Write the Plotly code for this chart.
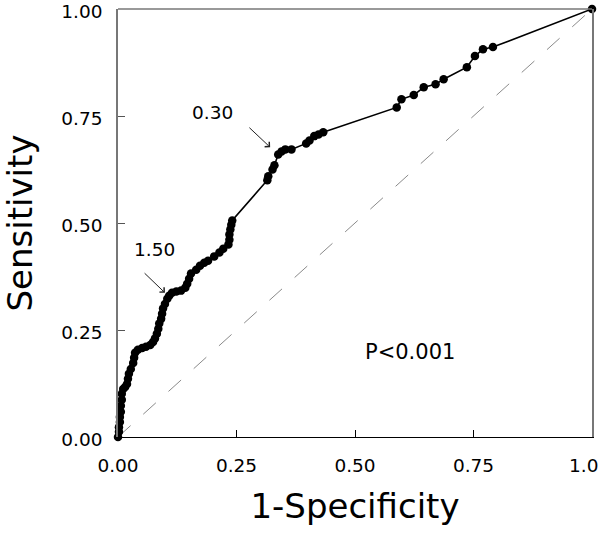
import plotly.graph_objects as go

# ROC curve points (1-Specificity, Sensitivity)
fpr = [0.000, 0.002, 0.002, 0.004, 0.004, 0.006, 0.006, 0.008, 0.008, 0.011,
       0.015, 0.019, 0.021, 0.023, 0.027, 0.032, 0.034, 0.036, 0.042, 0.051,
       0.059, 0.068, 0.074, 0.078, 0.082, 0.085, 0.087, 0.091, 0.093, 0.095,
       0.099, 0.104, 0.108, 0.114, 0.123, 0.133, 0.142, 0.146, 0.150, 0.154,
       0.165, 0.173, 0.182, 0.190, 0.203, 0.214, 0.222, 0.233, 0.235, 0.235,
       0.237, 0.239, 0.241, 0.315, 0.317, 0.326, 0.330, 0.338, 0.345, 0.353,
       0.366, 0.397, 0.404, 0.414, 0.423, 0.433, 0.588, 0.598, 0.624, 0.645,
       0.670, 0.687, 0.736, 0.753, 0.770, 0.791, 1.000]
sens = [0.000, 0.012, 0.023, 0.035, 0.047, 0.059, 0.073, 0.087, 0.101, 0.112,
        0.117, 0.124, 0.136, 0.148, 0.159, 0.173, 0.185, 0.197, 0.204, 0.208,
        0.211, 0.215, 0.222, 0.230, 0.241, 0.253, 0.265, 0.276, 0.288, 0.300,
        0.311, 0.323, 0.330, 0.337, 0.340, 0.342, 0.349, 0.358, 0.370, 0.382,
        0.391, 0.400, 0.407, 0.412, 0.422, 0.431, 0.440, 0.450, 0.461, 0.473,
        0.485, 0.496, 0.506, 0.600, 0.609, 0.625, 0.635, 0.660, 0.667, 0.672,
        0.672, 0.686, 0.693, 0.703, 0.707, 0.712, 0.770, 0.789, 0.799, 0.817,
        0.824, 0.836, 0.864, 0.890, 0.906, 0.911, 1.000]

x_tickvals = [0, 0.25, 0.5, 0.75, 1.0]
x_ticktext = ["0.00", "0.25", "0.50", "0.75", "1.0"]
y_tickvals = [0, 0.25, 0.5, 0.75, 1.0]
y_ticktext = ["0.00", "0.25", "0.50", "0.75", "1.00"]

# Cut-off annotations
cutoff_labels = ["1.50", "0.30"]
label_x = [0.078, 0.200]
label_y = [0.438, 0.759]
arrow_head_x = [0.099, 0.321]
arrow_head_y = [0.337, 0.677]
arrow_tail_x = [0.053, 0.274]
arrow_tail_y = [0.386, 0.726]

diag = [0, 1]

FONT = "DejaVu Sans, Verdana, sans-serif"
TICK_SIZE = 18.5

fig = go.Figure()
fig.add_trace(go.Scatter(x=diag, y=diag, mode="lines",
                         line=dict(color="#8a8a8a", width=1, dash="17px,17px"),
                         hoverinfo="skip", showlegend=False))
fig.add_trace(go.Scatter(x=fpr, y=sens, mode="lines+markers",
                         line=dict(color="black", width=1.6),
                         marker=dict(color="black", size=8.5),
                         cliponaxis=False, showlegend=False))

for lab, lx, ly, hx, hy, tx, ty in zip(cutoff_labels, label_x, label_y,
                                      arrow_head_x, arrow_head_y,
                                      arrow_tail_x, arrow_tail_y):
    fig.add_annotation(x=lx, y=ly, text=lab, showarrow=False,
                       font=dict(family=FONT, size=18.5, color="black"))
    fig.add_annotation(x=hx, y=hy, ax=tx, ay=ty, axref="x", ayref="y",
                       text="", showarrow=True, arrowhead=4, arrowsize=1.3,
                       arrowwidth=1, arrowcolor="#222")

fig.add_annotation(x=0.616, y=0.199, text="P<0.001", showarrow=False,
                   font=dict(family=FONT, size=21, color="black"))

# last x tick label drawn flush with the right edge so it stays inside the page
x_axis_labels = x_ticktext[:-1] + [""]
fig.add_annotation(x=x_tickvals[-1], xref="x", y=0, yref="paper",
                   text=x_ticktext[-1], showarrow=False, xanchor="right",
                   yanchor="top", xshift=8, yshift=-16,
                   font=dict(family=FONT, size=TICK_SIZE, color="black"))

fig.add_shape(type="line", xref="paper", yref="paper", x0=0, x1=1, y0=1, y1=1,
              line=dict(color="#777", width=1.5))

fig.update_layout(
    width=600, height=536,
    margin=dict(l=118, r=8, t=9, b=99, autoexpand=False),
    paper_bgcolor="white", plot_bgcolor="white",
    font=dict(family=FONT, color="black"),
    xaxis=dict(range=[0, 1], tickvals=x_tickvals, ticktext=x_axis_labels,
               showgrid=False, zeroline=False, showline=True, linecolor="black",
               linewidth=1.2, ticks="inside", ticklen=7, tickcolor="black",
               tickfont=dict(size=TICK_SIZE, family=FONT), ticklabelstandoff=12,
               automargin=False,
               title=dict(text="1-Specificity", font=dict(size=34, family=FONT),
                          standoff=18)),
    yaxis=dict(range=[0, 1], tickvals=y_tickvals, ticktext=y_ticktext,
               showgrid=False, zeroline=False, showline=True, linecolor="#777",
               linewidth=1.5, mirror=True, ticks="inside", ticklen=7,
               tickcolor="#555", tickfont=dict(size=TICK_SIZE, family=FONT),
               ticklabelstandoff=10, ticklabelshift=3,
               ticklabeloverflow="allow", automargin=False,
               title=dict(text="Sensitivity", font=dict(size=34, family=FONT),
                          standoff=20)),
)

fig.write_html("out.html", config={"displayModeBar": False},
               post_script="document.body.style.margin='0';")
